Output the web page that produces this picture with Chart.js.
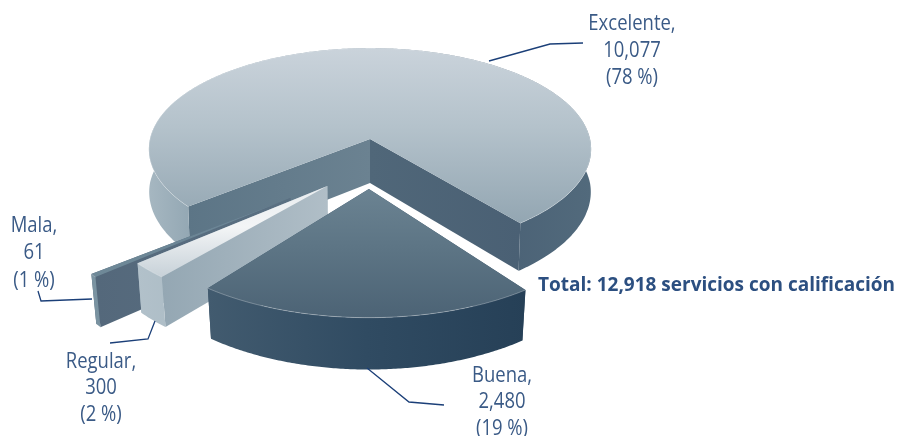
<!DOCTYPE html>
<html lang="es">
<head>
  <meta charset="UTF-8" />
  <title>Servicios con calificación</title>
  <script src="https://cdn.jsdelivr.net/npm/chart.js"></script>
  <style>
    body { margin: 0; background: #fff; }
    canvas { display: block; }
  </style>
</head>
<body>
  <canvas id="pie3d" width="898" height="436"></canvas>

  <script>
    // data
    const categories = ['Excelente', 'Buena', 'Regular', 'Mala'];
    const counts = [10077, 2480, 300, 61];
    const percents = [78, 19, 2, 1];
    const totalLabel = 'Total: 12,918 servicios con calificación';

    // projection of the flat pie onto the page
    const TILT = 0.4545;   // squash of the disc
    const PERSP = 0.1;     // front of the disc comes closer
    const WARP = 5.5 * Math.PI / 180;
    const DEPTH = 44;

    // how each slice is pulled out [x, y, size, warp share], x and y in radii
    const explode = [[0, 0, 1, 1], [-0.005, 0.476, 1.04, 0.5], [-0.185, 0.45, 1, 1], [-0.342, 0.557, 1, 1]];
    const drawOrder = [0, 3, 2, 1];

    const sliceStyles = [
      {
        top: ['#cad3db', '#b4c2cb', '#93a6b2'],
        rim: [[0, '#a6b7c1'], [0.09, '#94a8b4'], [0.8, '#4b6276'], [1, '#526a7c']],
        startFace: ['#5c7586', '#6b8291'],
        endFace: ['#4a6074', '#506779']
      },
      {
        top: ['#6b8392', '#5d7585', '#4c6375'],
        rim: [[0, '#425b6f'], [0.5, '#304b62'], [1, '#264057']],
        startFace: ['#3a5368', '#3a5368'],
        endFace: ['#3a5368', '#3a5368']
      },
      {
        top: ['#e8ecef', '#f3f5f6', '#c7d1d8'],
        rim: [[0, '#b2c1ca'], [1, '#9aadb8']],
        startFace: ['#94a7b3', '#b0bec7'],
        endFace: ['#a0b1bb', '#a0b1bb']
      },
      {
        top: ['#6b8595', '#6b8595', '#6f8998'],
        rim: [[0, '#7a93a1'], [1, '#6f8998']],
        startFace: ['#54687b', '#5a7082'],
        endFace: ['#54687b', '#54687b']
      }
    ];

    const labelBoxes = [
      { x: 632, y: [24, 51, 78], line: [[489, 61], [550, 44], [583, 43]] },
      { x: 502, y: [376, 402, 429], line: [[367, 368], [409, 402], [444, 405]] },
      { x: 101, y: [362, 388, 415], line: [[155, 321], [148, 339], [110, 343]] },
      { x: 34, y: [226, 253, 281], line: [[38, 291], [41, 301], [92, 299]] }
    ];

    function warpAngle(t, share) {
      return t + share * WARP * Math.sin(2 * (t - Math.PI / 2));
    }

    function project(arc, x, y, h) {
      const R = arc.outerRadius;
      const w = 1 - PERSP * y;
      let px = R * x / w;
      let py = R * TILT * y / w;
      if (h) {
        py += h / w;
        px *= 1 - 0.015 * Math.max(y, 0);
      }
      return [arc.x + px, arc.y + py];
    }

    function fillPoly(ctx, pts, fill) {
      ctx.beginPath();
      pts.forEach((p, i) => i ? ctx.lineTo(p[0], p[1]) : ctx.moveTo(p[0], p[1]));
      ctx.closePath();
      ctx.fillStyle = fill;
      ctx.fill();
    }

    function linearFill(ctx, x0, y0, x1, y1, stops) {
      const g = ctx.createLinearGradient(x0, y0, x1, y1);
      stops.forEach(s => g.addColorStop(s[0], s[1]));
      return g;
    }

    function drawSlice(ctx, arc, i) {
      const [ox, oy, size, share] = explode[i];
      const style = sliceStyles[i];
      const n = Math.max(4, Math.ceil((arc.endAngle - arc.startAngle) * 120));
      const topPts = [];
      const lowPts = [];
      for (let s = 0; s <= n; s++) {
        const a = warpAngle(arc.startAngle + (arc.endAngle - arc.startAngle) * s / n, share);
        const x = ox + size * Math.cos(a);
        const y = oy + size * Math.sin(a);
        topPts.push(project(arc, x, y, 0));
        lowPts.push(project(arc, x, y, DEPTH));
      }
      const apexTop = project(arc, ox, oy, 0);
      const apexLow = project(arc, ox, oy, DEPTH);
      const xs = topPts.map(p => p[0]).concat(apexTop[0]);
      const ys = topPts.map(p => p[1]).concat(apexTop[1]);
      const minX = Math.min(...xs), maxX = Math.max(...xs);
      const minY = Math.min(...ys), maxY = Math.max(...ys);

      // cut faces, the one at the end of the sweep goes behind
      const first = topPts[0], last = topPts[n];
      fillPoly(ctx, [apexTop, last, lowPts[n], apexLow],
        linearFill(ctx, last[0], 0, apexTop[0], 0, [[0, style.endFace[0]], [1, style.endFace[1]]]));
      fillPoly(ctx, [apexTop, first, lowPts[0], apexLow],
        linearFill(ctx, first[0], 0, apexTop[0], 0, [[0, style.startFace[0]], [1, style.startFace[1]]]));

      // outer wall
      fillPoly(ctx, topPts.concat(lowPts.slice().reverse()),
        linearFill(ctx, minX, 0, maxX, 0, style.rim));

      // top of the slice
      fillPoly(ctx, [apexTop].concat(topPts),
        linearFill(ctx, 0, minY, 0, maxY, [[0, style.top[0]], [0.45, style.top[1]], [1, style.top[2]]]));

      // thin light edge where top meets wall
      ctx.beginPath();
      topPts.forEach((p, k) => k ? ctx.lineTo(p[0], p[1]) : ctx.moveTo(p[0], p[1]));
      ctx.strokeStyle = 'rgba(255,255,255,0.28)';
      ctx.lineWidth = 1;
      ctx.stroke();
    }

    const pie3d = {
      id: 'pie3d',
      beforeDatasetDraw(chart, args) {
        const ctx = chart.ctx;
        const arcs = chart.getDatasetMeta(args.index).data;
        drawOrder.forEach(i => drawSlice(ctx, arcs[i], i));
        return false;
      }
    };

    // Open Sans pulled in a little, nearer to the humanist face of the original
    function narrowText(ctx, text, x, y) {
      ctx.save();
      ctx.translate(x, y);
      ctx.scale(0.88, 1);
      ctx.fillText(text, 0, 0);
      ctx.restore();
    }

    const calloutLabels = {
      id: 'calloutLabels',
      afterDraw(chart) {
        const ctx = chart.ctx;
        ctx.save();
        ctx.strokeStyle = '#1b3f78';
        ctx.lineWidth = 1.3;
        labelBoxes.forEach(b => {
          ctx.beginPath();
          b.line.forEach((p, k) => k ? ctx.lineTo(p[0], p[1]) : ctx.moveTo(p[0], p[1]));
          ctx.stroke();
        });

        ctx.fillStyle = '#3a5a86';
        ctx.textAlign = 'center';
        ctx.textBaseline = 'middle';
        ctx.font = '21px "Open Sans"';
        categories.forEach((name, i) => {
          const b = labelBoxes[i];
          narrowText(ctx, name + ',', b.x, b.y[0]);
          narrowText(ctx, counts[i].toLocaleString('en-US'), b.x, b.y[1]);
          narrowText(ctx, '(' + percents[i] + ' %)', b.x, b.y[2]);
        });

        ctx.fillStyle = '#2c4f80';
        ctx.textAlign = 'left';
        ctx.font = 'bold 20px "Open Sans"';
        ctx.fillText(totalLabel, 538, 285, 357);
        ctx.restore();
      }
    };

    new Chart(document.getElementById('pie3d'), {
      type: 'pie',
      data: {
        labels: categories,
        datasets: [{ data: counts, borderWidth: 0 }]
      },
      options: {
        responsive: false,
        animation: false,
        radius: 220,
        rotation: 225.2,
        layout: { padding: { left: 0, top: 0, right: 158, bottom: 158 } },
        plugins: { legend: { display: false }, tooltip: { enabled: false } }
      },
      plugins: [pie3d, calloutLabels]
    });
  </script>
</body>
</html>
